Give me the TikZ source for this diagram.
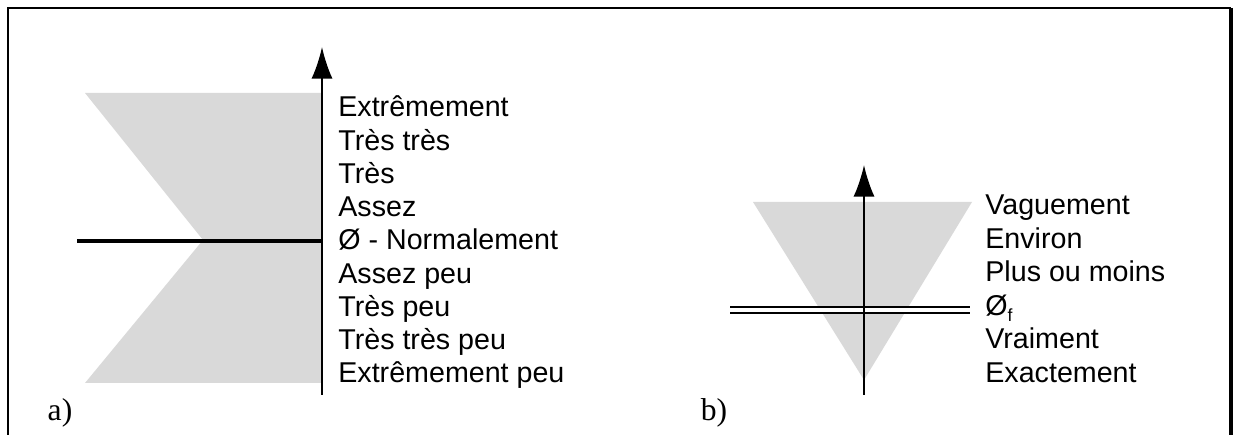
\documentclass[tikz,border=0pt]{standalone}
\usepackage{fontspec}
\setmainfont{Liberation Sans}
\newfontfamily\panelfont{Liberation Serif}
\usetikzlibrary{arrows.meta}

\definecolor{zonegray}{RGB}{217,217,217}

\tikzset{
  axis/.style={line width=1.1pt, -{Latex[length=18pt,width=12pt]}},
  level/.style={anchor=base west, inner sep=0pt, font=\fontsize{16.3}{19}\selectfont},
  panel/.style={inner sep=0pt, font=\panelfont\fontsize{18}{21}\selectfont},
}

\begin{document}
\begin{tikzpicture}
  \useasboundingbox (0,0) rectangle (24.66,8.7);

  % Frame
  \draw[line width=1.5pt] (0.16,0) -- (0.16,8.54) -- (24.62,8.54);
  \draw[line width=2.2pt] (24.62,8.54) -- (24.62,0);

  % First scale (a)
  \begin{scope}[xshift=6.44cm]
    % Shaded area
    \fill[zonegray] (-4.74,6.84) -- (0,6.84) -- (0,1.04) -- (-4.74,1.04) -- (-2.38,3.9) -- cycle;

    % Neutral level
    \coordinate (na) at (-4.9,3.88);
    \coordinate (nb) at (0,3.88);
    \draw[line width=2.3pt] (na) -- (nb);

    % Axis
    \coordinate (abot) at (0,0.8);
    \coordinate (atop) at (0,7.76);
    \draw[axis] (abot) -- (atop);

    % Level labels
    \foreach \txt [count=\i from 0] in {Extrêmement, Très très, Très, Assez,
        Ø - Normalement, Assez peu, Très peu, Très très peu, Extrêmement peu} {
      \node[level] (la\i) at (0.32,6.36-0.665*\i) {\txt};
    }

    % Panel label
    \node[panel] (pa) at (-5.24,0.44) {a)};
  \end{scope}

  % Second scale (b)
  \begin{scope}[xshift=17.28cm]
    % Shaded area
    \fill[zonegray] (-2.22,4.66) -- (2.16,4.66) -- (0,1.1) -- cycle;

    % Fuzzy level
    \coordinate (fa) at (-2.68,2.5);
    \coordinate (fb) at (2.12,2.5);
    \draw[line width=1.1pt, double, double distance=2.3pt] (fa) -- (fb);

    % Axis
    \coordinate (bbot) at (0,0.8);
    \coordinate (btop) at (0,5.4);
    \draw[axis] (bbot) -- (btop);

    % Level labels
    \foreach \txt [count=\i from 0] in {Vaguement, Environ, Plus ou moins,
        Ø\raisebox{-0.4ex}{\fontsize{10}{12}\selectfont f}, Vraiment, Exactement} {
      \node[level] (lb\i) at (2.42,4.4-0.67*\i) {\txt};
    }

    % Panel label
    \node[panel] (pb) at (-3.0,0.44) {b)};
  \end{scope}
\end{tikzpicture}
\end{document}
